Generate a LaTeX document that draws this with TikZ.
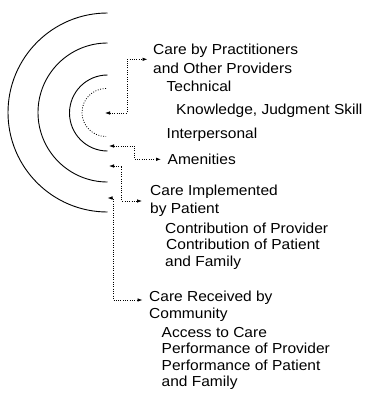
\documentclass[tikz,border=0pt]{standalone}
\usepackage{fontspec}
\setmainfont{Liberation Sans}[FakeStretch=1.07]
\usetikzlibrary{arrows.meta}
\begin{document}
\begin{tikzpicture}[x=1pt,y=-1pt,
  lab/.style={anchor=base west, inner sep=0pt, font=\fontsize{14.5}{17}\selectfont},
  ring/.style={line width=0.9pt},
  dotring/.style={line width=0.8pt, dash pattern=on 0.9pt off 1.6pt},
  conn/.style={line width=0.8pt, dash pattern=on 0.9pt off 1.4pt,
    {Latex[length=5pt,width=3.6pt]}-{Latex[length=5pt,width=3.6pt]}}
]
\useasboundingbox[fill=white] (0,0) rectangle (368,405);

% concentric half rings
\draw[ring] (107.5,13) arc[start angle=270,end angle=90,radius=99.5];
\draw[ring] (107.5,43) arc[start angle=270,end angle=90,radius=69.5];
\draw[ring] (107.5,75) arc[start angle=270,end angle=90,radius=38];
\draw[dotring] (106,88.5) arc[start angle=270,end angle=90,radius=24];

% labels
\node[lab] (n1) at (153,54.7) {Care by Practitioners};
\node[lab] (n2) at (153,73) {and Other Providers};
\node[lab] (n3) at (166.5,91.5) {Technical};
\node[lab] (n4) at (176,114) {Knowledge, Judgment Skill};
\node[lab] (n5) at (166.5,138.7) {Interpersonal};
\node[lab] (n6) at (167.5,164.7) {Amenities};
\node[lab] (n7) at (150,195.5) {Care Implemented};
\node[lab] (n8) at (150,213) {by Patient};
\node[lab] (n9) at (165,233) {Contribution of Provider};
\node[lab] (n10) at (166,249.3) {Contribution of Patient};
\node[lab] (n11) at (165,266.5) {and Family};
\node[lab] (n12) at (149,301.5) {Care Received by};
\node[lab] (n13) at (149,318.3) {Community};
\node[lab] (n14) at (161.5,337.7) {Access to Care};
\node[lab] (n15) at (161.5,353.3) {Performance of Provider};
\node[lab] (n16) at (161.5,370) {Performance of Patient};
\node[lab] (n17) at (161.5,386.7) {and Family};

% connector end points
\coordinate (a1) at (105,113);
\coordinate (b1) at (147.5,59.3);
\coordinate (a2) at (109,146);
\coordinate (b2) at (161,159.3);
\coordinate (a3) at (109,166);
\coordinate (b3) at (142,201);
\coordinate (a4) at (107.5,198);
\coordinate (b4) at (142.5,300);

\draw[conn] (a1) -| (127,59.3) -- (b1);
\draw[conn] (a2) -| (134.5,159.3) -- (b2);
\draw[conn] (a3) -| (121.7,201) -- (b3);
\draw[conn] (a4) -| (113.5,300) -- (b4);
\end{tikzpicture}
\end{document}
